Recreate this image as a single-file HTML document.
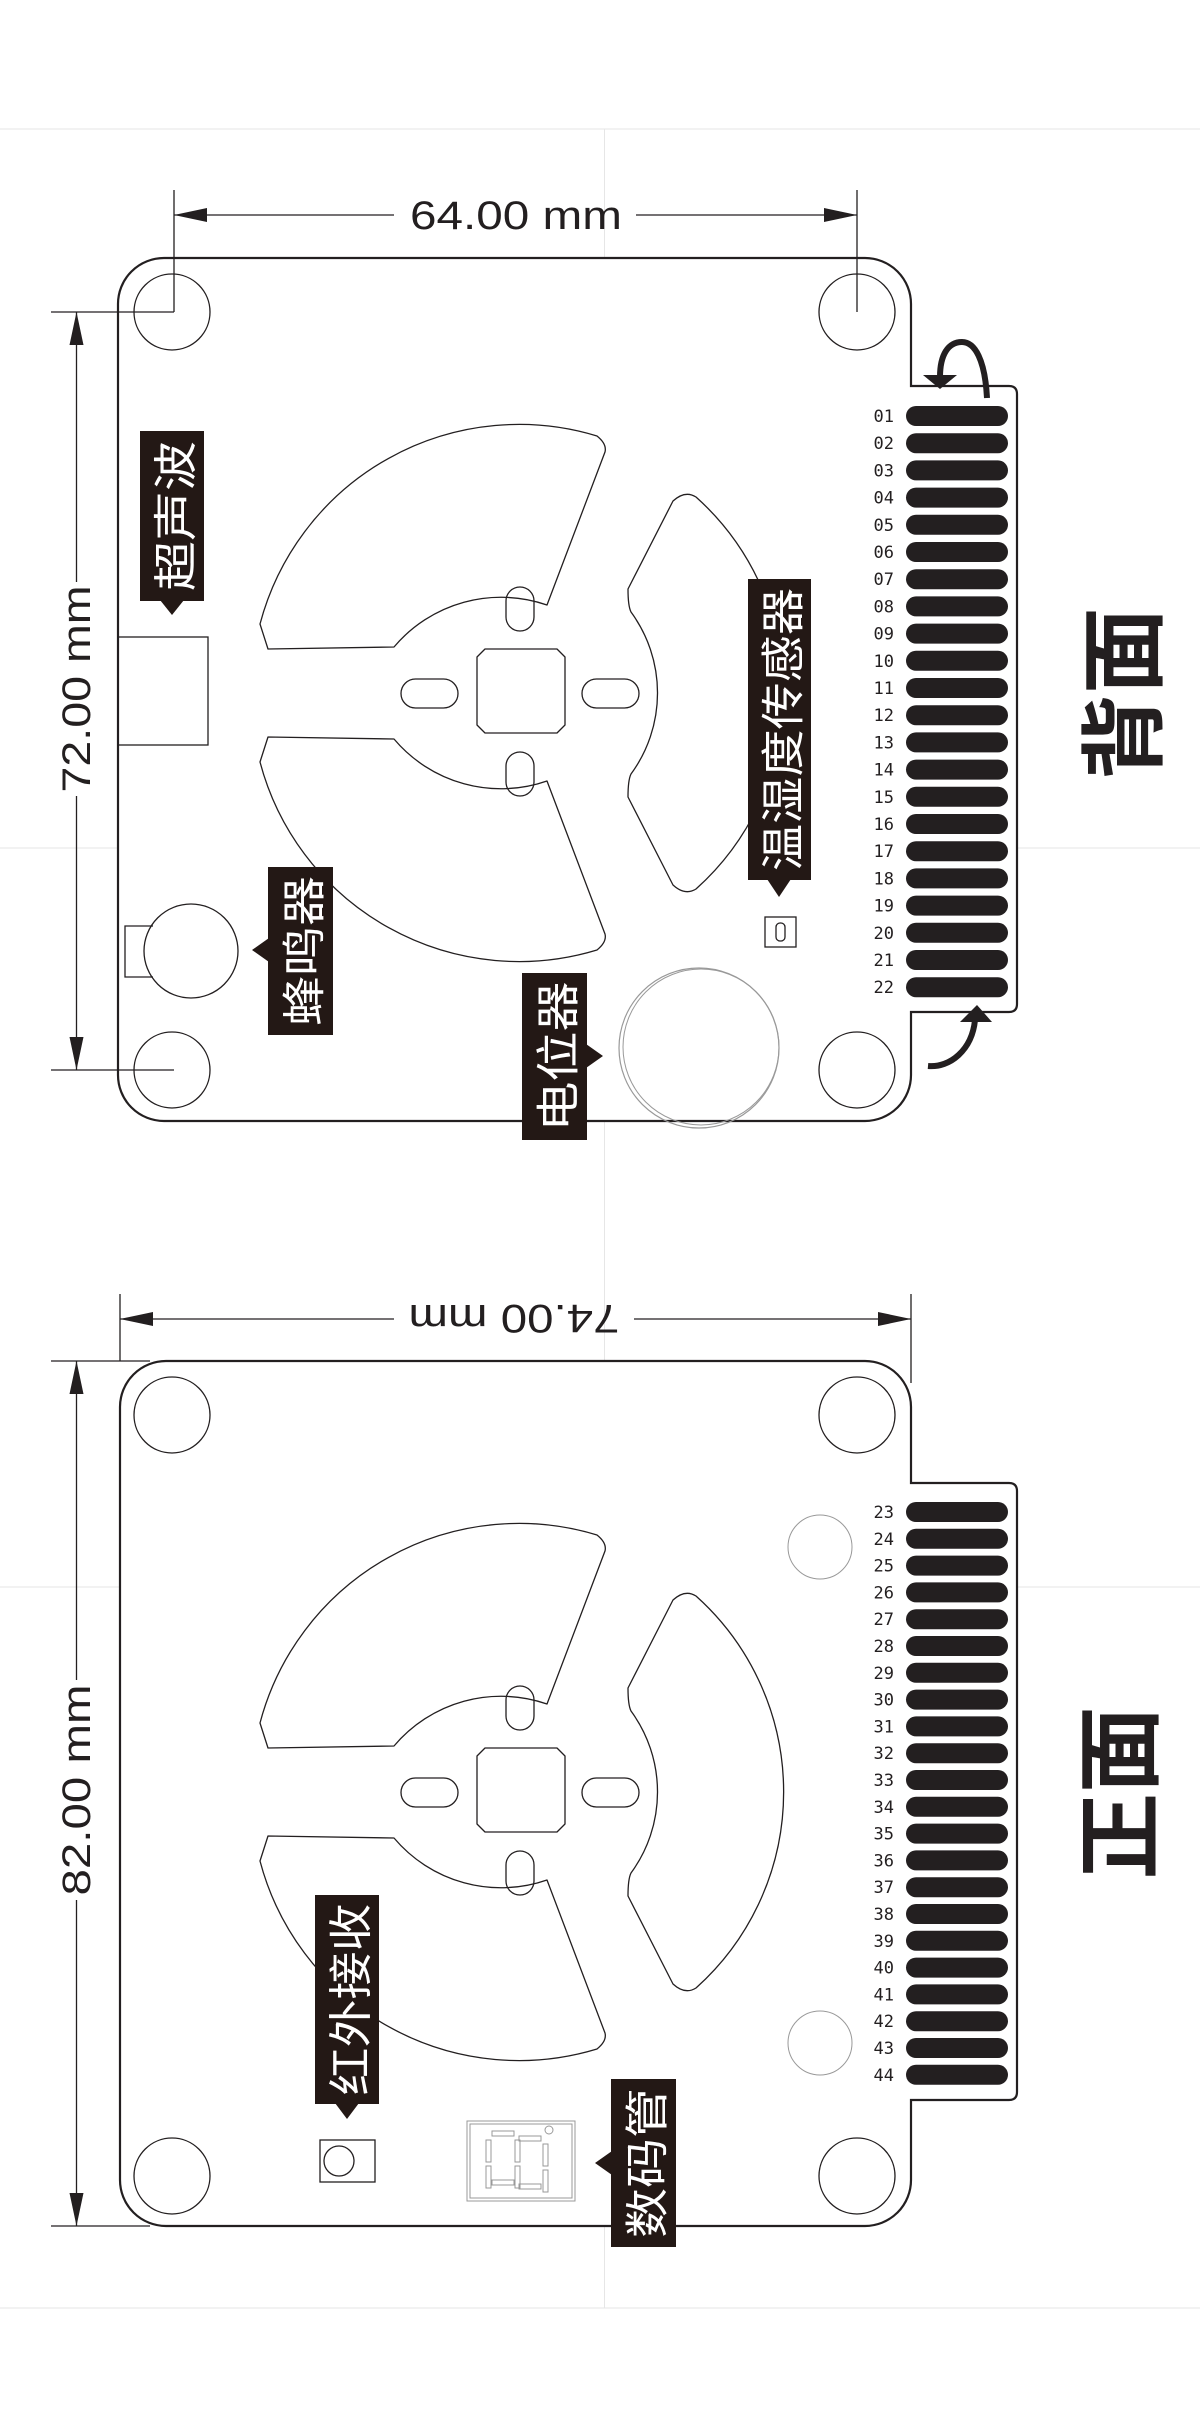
<!DOCTYPE html>
<html><head><meta charset="utf-8"><style>
html,body{margin:0;padding:0;background:#fff;}
svg{display:block;}
.lbl{font-family:"Noto Sans CJK SC","WenQuanYi Zen Hei",sans-serif;fill:#fff;font-size:44px;}
.dim{font-family:"Liberation Sans",sans-serif;fill:#231f20;font-size:40px;}
.num{font-family:"DejaVu Sans Mono","Liberation Mono",monospace;fill:#231f20;font-size:17px;}
.big{font-family:"Noto Sans CJK SC","WenQuanYi Zen Hei",sans-serif;fill:#231f20;font-size:86px;font-weight:bold;}
</style></head><body>
<svg width="1200" height="2427" viewBox="0 0 1200 2427" xmlns="http://www.w3.org/2000/svg">
<defs>
<g id="blades" fill="none" stroke="#231f20" stroke-width="1.3" stroke-linejoin="round">
  <path d="M268,649 L260,624 A268,268 0 0 1 597,436 Q607,444 605,452 L547,605 A140,140 0 0 0 394,647 Z"/>
  <path d="M268,737 L260,762 A268,268 0 0 0 597,950 Q607,942 605,934 L547,781 A140,140 0 0 1 394,739 Z"/>
  <path d="M673,501 Q685,490 696,497 A263,263 0 0 1 696,889 Q685,896 673,885 L628,797 Q628,780 631,774 A137,137 0 0 0 631,612 Q628,606 628,589 Z"/>
  <path d="M485,649 H557 L565,657 V725 L557,733 H485 L477,725 V657 Z"/>
  <rect x="401" y="679" width="57" height="29" rx="14.5"/>
  <rect x="582" y="679" width="57" height="29" rx="14.5"/>
  <rect x="506" y="587" width="28" height="44" rx="14"/>
  <rect x="506" y="752" width="28" height="44" rx="14"/>
</g>
</defs>

<g stroke="#e6e6e6" stroke-width="1">
<line x1="0" y1="129" x2="1200" y2="129"/>
<line x1="0" y1="848" x2="1200" y2="848"/>
<line x1="0" y1="1587" x2="1200" y2="1587"/>
<line x1="0" y1="2308" x2="1200" y2="2308"/>
<line x1="604.5" y1="129" x2="604.5" y2="2308"/>
</g>

<!-- ================= BACK ================= -->
<path d="M164,258 H865 A46,46 0 0 1 911,304 V386 H1009 Q1017,386 1017,394 V1004 Q1017,1012 1009,1012 H911 V1075 A46,46 0 0 1 865,1121 H164 A46,46 0 0 1 118,1075 V304 A46,46 0 0 1 164,258 Z" fill="#fff" stroke="#231f20" stroke-width="2.2"/>
<use href="#blades"/>

<g fill="none" stroke="#231f20" stroke-width="1.3">
<circle cx="172" cy="312" r="38"/><circle cx="857" cy="312" r="38"/>
<circle cx="172" cy="1070" r="38"/><circle cx="857" cy="1070" r="38"/>
<rect x="118" y="637" width="90" height="108"/>
<path d="M153,926 H125 V977 H153"/>
<circle cx="191" cy="951" r="47"/>
<rect x="765" y="917" width="31" height="30"/>
<rect x="776" y="923" width="9" height="18" rx="4"/>
</g>
<circle cx="699" cy="1048" r="80" fill="none" stroke="#999" stroke-width="1.2"/>
<circle cx="701" cy="1047" r="78" fill="none" stroke="#999" stroke-width="1"/>

<g stroke="#231f20" stroke-width="1.3" fill="none">
<line x1="174" y1="190" x2="174" y2="312"/>
<line x1="857" y1="190" x2="857" y2="312"/>
<line x1="174" y1="215" x2="394" y2="215"/>
<line x1="636" y1="215" x2="857" y2="215"/>
<line x1="51" y1="312" x2="174" y2="312"/>
<line x1="51" y1="1070" x2="174" y2="1070"/>
<line x1="76.5" y1="312" x2="76.5" y2="582"/>
<line x1="76.5" y1="796" x2="76.5" y2="1070"/>
</g>
<g fill="#231f20">
<path d="M174,215 L207,208 L207,222 Z"/><path d="M857,215 L824,208 L824,222 Z"/>
<path d="M76.5,312 L69.5,345 L83.5,345 Z"/><path d="M76.5,1070 L69.5,1037 L83.5,1037 Z"/>
</g>
<text class="dim" x="516" y="229" text-anchor="middle" textLength="212" lengthAdjust="spacingAndGlyphs">64.00 mm</text>
<text class="dim" transform="translate(90,689) rotate(-90)" x="0" y="0" text-anchor="middle" textLength="207" lengthAdjust="spacingAndGlyphs">72.00 mm</text>

<g fill="#231f20">
<rect x="906" y="406" width="102" height="20" rx="10"/><rect x="906" y="433.2" width="102" height="20" rx="10"/><rect x="906" y="460.4" width="102" height="20" rx="10"/><rect x="906" y="487.6" width="102" height="20" rx="10"/><rect x="906" y="514.8" width="102" height="20" rx="10"/><rect x="906" y="542" width="102" height="20" rx="10"/><rect x="906" y="569.2" width="102" height="20" rx="10"/><rect x="906" y="596.4" width="102" height="20" rx="10"/><rect x="906" y="623.6" width="102" height="20" rx="10"/><rect x="906" y="650.8" width="102" height="20" rx="10"/><rect x="906" y="678" width="102" height="20" rx="10"/><rect x="906" y="705.2" width="102" height="20" rx="10"/><rect x="906" y="732.4" width="102" height="20" rx="10"/><rect x="906" y="759.6" width="102" height="20" rx="10"/><rect x="906" y="786.8" width="102" height="20" rx="10"/><rect x="906" y="814" width="102" height="20" rx="10"/><rect x="906" y="841.2" width="102" height="20" rx="10"/><rect x="906" y="868.4" width="102" height="20" rx="10"/><rect x="906" y="895.6" width="102" height="20" rx="10"/><rect x="906" y="922.8" width="102" height="20" rx="10"/><rect x="906" y="950" width="102" height="20" rx="10"/><rect x="906" y="977.2" width="102" height="20" rx="10"/>
</g>
<g class="num" text-anchor="end">
<text x="894" y="422">01</text><text x="894" y="449.2">02</text><text x="894" y="476.4">03</text><text x="894" y="503.6">04</text><text x="894" y="530.8">05</text><text x="894" y="558">06</text><text x="894" y="585.2">07</text><text x="894" y="612.4">08</text><text x="894" y="639.6">09</text><text x="894" y="666.8">10</text><text x="894" y="694">11</text><text x="894" y="721.2">12</text><text x="894" y="748.4">13</text><text x="894" y="775.6">14</text><text x="894" y="802.8">15</text><text x="894" y="830">16</text><text x="894" y="857.2">17</text><text x="894" y="884.4">18</text><text x="894" y="911.6">19</text><text x="894" y="938.8">20</text><text x="894" y="966">21</text><text x="894" y="993.2">22</text>
</g>

<path d="M987,398 C985,360 975,342 962,342 C948,342 940,355 940,377" fill="none" stroke="#231f20" stroke-width="6"/>
<path d="M923,375 L957,375 L940,389 Z" fill="#231f20"/>
<path d="M928,1066 C950,1068 972,1050 975,1020" fill="none" stroke="#231f20" stroke-width="6"/>
<path d="M960,1022 L992,1022 L977,1005 Z" fill="#231f20"/>

<text class="big" transform="translate(1117,694) rotate(-90)" text-anchor="middle" dominant-baseline="central" textLength="173" lengthAdjust="spacingAndGlyphs">背面</text>

<g fill="#231815">
<rect x="140" y="431" width="64" height="170"/><path d="M160,600 H184 L172,615 Z"/>
<rect x="748" y="579" width="63" height="301"/><path d="M767,879 H791 L779,897 Z"/>
<rect x="268" y="867" width="65" height="168"/><path d="M269,938 V962 L252,950 Z"/>
<rect x="522" y="973" width="65" height="167"/><path d="M586,1044 V1068 L603,1056 Z"/>
</g>
<text class="lbl" transform="translate(172,516) rotate(-90)" text-anchor="middle" dominant-baseline="central" textLength="150" lengthAdjust="spacingAndGlyphs">超声波</text>
<text class="lbl" transform="translate(779.5,729.5) rotate(-90)" text-anchor="middle" dominant-baseline="central" textLength="283" lengthAdjust="spacingAndGlyphs">温湿度传感器</text>
<text class="lbl" transform="translate(300.5,951) rotate(-90)" text-anchor="middle" dominant-baseline="central" textLength="150" lengthAdjust="spacingAndGlyphs">蜂鸣器</text>
<text class="lbl" transform="translate(554.5,1056.5) rotate(-90)" text-anchor="middle" dominant-baseline="central" textLength="150" lengthAdjust="spacingAndGlyphs">电位器</text>

<!-- ================= FRONT ================= -->
<path d="M166,1361 H865 A46,46 0 0 1 911,1407 V1483 H1009 Q1017,1483 1017,1491 V2092 Q1017,2100 1009,2100 H911 V2180 A46,46 0 0 1 865,2226 H166 A46,46 0 0 1 120,2180 V1407 A46,46 0 0 1 166,1361 Z" fill="#fff" stroke="#231f20" stroke-width="2.2"/>
<use href="#blades" transform="translate(0,1099)"/>
<g fill="none" stroke="#231f20" stroke-width="1.3">
<circle cx="172" cy="1415" r="38"/><circle cx="857" cy="1415" r="38"/>
<circle cx="172" cy="2176" r="38"/><circle cx="857" cy="2176" r="38"/>
<rect x="320" y="2140" width="55" height="42"/>
<circle cx="339" cy="2161" r="15"/>
</g>
<g fill="none" stroke="#999" stroke-width="1">
<circle cx="820" cy="1547" r="32"/><circle cx="820" cy="2043" r="32"/>
<rect x="467" y="2121" width="108" height="80"/>
<rect x="470" y="2124" width="102" height="74"/>
<rect x="492" y="2131" width="22" height="5"/><rect x="519" y="2136" width="22" height="5"/>
<rect x="486" y="2140" width="5" height="22"/><rect x="515" y="2140" width="5" height="22"/><rect x="543" y="2144" width="5" height="22"/>
<rect x="486" y="2166" width="5" height="22"/><rect x="515" y="2166" width="5" height="22"/><rect x="543" y="2170" width="5" height="22"/>
<rect x="492" y="2180" width="22" height="5"/><rect x="519" y="2184" width="22" height="5"/>
<circle cx="549" cy="2130" r="4"/>
</g>

<g stroke="#231f20" stroke-width="1.3" fill="none">
<line x1="120" y1="1294" x2="120" y2="1361"/>
<line x1="911" y1="1294" x2="911" y2="1383"/>
<line x1="120" y1="1319" x2="394" y2="1319"/>
<line x1="634" y1="1319" x2="911" y2="1319"/>
<line x1="51" y1="1361" x2="150" y2="1361"/>
<line x1="51" y1="2226" x2="150" y2="2226"/>
<line x1="76.5" y1="1361" x2="76.5" y2="1680"/>
<line x1="76.5" y1="1900" x2="76.5" y2="2226"/>
</g>
<g fill="#231f20">
<path d="M120,1319 L153,1312 L153,1326 Z"/><path d="M911,1319 L878,1312 L878,1326 Z"/>
<path d="M76.5,1361 L69.5,1394 L83.5,1394 Z"/><path d="M76.5,2226 L69.5,2193 L83.5,2193 Z"/>
</g>
<text class="dim" transform="translate(514,1305) rotate(180)" x="0" y="0" text-anchor="middle" textLength="211" lengthAdjust="spacingAndGlyphs">74.00 mm</text>
<text class="dim" transform="translate(90,1790) rotate(-90)" x="0" y="0" text-anchor="middle" textLength="211" lengthAdjust="spacingAndGlyphs">82.00 mm</text>

<g fill="#231f20">
<rect x="906" y="1502" width="102" height="20" rx="10"/><rect x="906" y="1528.8" width="102" height="20" rx="10"/><rect x="906" y="1555.6" width="102" height="20" rx="10"/><rect x="906" y="1582.4" width="102" height="20" rx="10"/><rect x="906" y="1609.2" width="102" height="20" rx="10"/><rect x="906" y="1636" width="102" height="20" rx="10"/><rect x="906" y="1662.8" width="102" height="20" rx="10"/><rect x="906" y="1689.6" width="102" height="20" rx="10"/><rect x="906" y="1716.4" width="102" height="20" rx="10"/><rect x="906" y="1743.2" width="102" height="20" rx="10"/><rect x="906" y="1770" width="102" height="20" rx="10"/><rect x="906" y="1796.8" width="102" height="20" rx="10"/><rect x="906" y="1823.6" width="102" height="20" rx="10"/><rect x="906" y="1850.4" width="102" height="20" rx="10"/><rect x="906" y="1877.2" width="102" height="20" rx="10"/><rect x="906" y="1904" width="102" height="20" rx="10"/><rect x="906" y="1930.8" width="102" height="20" rx="10"/><rect x="906" y="1957.6" width="102" height="20" rx="10"/><rect x="906" y="1984.4" width="102" height="20" rx="10"/><rect x="906" y="2011.2" width="102" height="20" rx="10"/><rect x="906" y="2038" width="102" height="20" rx="10"/><rect x="906" y="2064.8" width="102" height="20" rx="10"/>
</g>
<g class="num" text-anchor="end">
<text x="894" y="1518">23</text><text x="894" y="1544.8">24</text><text x="894" y="1571.6">25</text><text x="894" y="1598.4">26</text><text x="894" y="1625.2">27</text><text x="894" y="1652">28</text><text x="894" y="1678.8">29</text><text x="894" y="1705.6">30</text><text x="894" y="1732.4">31</text><text x="894" y="1759.2">32</text><text x="894" y="1786">33</text><text x="894" y="1812.8">34</text><text x="894" y="1839.6">35</text><text x="894" y="1866.4">36</text><text x="894" y="1893.2">37</text><text x="894" y="1920">38</text><text x="894" y="1946.8">39</text><text x="894" y="1973.6">40</text><text x="894" y="2000.4">41</text><text x="894" y="2027.2">42</text><text x="894" y="2054">43</text><text x="894" y="2080.8">44</text>
</g>

<text class="big" transform="translate(1113,1793) rotate(-90)" text-anchor="middle" dominant-baseline="central" textLength="173" lengthAdjust="spacingAndGlyphs">正面</text>

<g fill="#231815">
<rect x="315" y="1895" width="64" height="209"/><path d="M335,2103 H359 L347,2119 Z"/>
<rect x="611" y="2079" width="65" height="168"/><path d="M612,2151 V2175 L595,2163 Z"/>
</g>
<text class="lbl" transform="translate(347,1999.5) rotate(-90)" text-anchor="middle" dominant-baseline="central" textLength="192" lengthAdjust="spacingAndGlyphs">红外接收</text>
<text class="lbl" transform="translate(643.5,2163) rotate(-90)" text-anchor="middle" dominant-baseline="central" textLength="150" lengthAdjust="spacingAndGlyphs">数码管</text>
</svg>
</body></html>
